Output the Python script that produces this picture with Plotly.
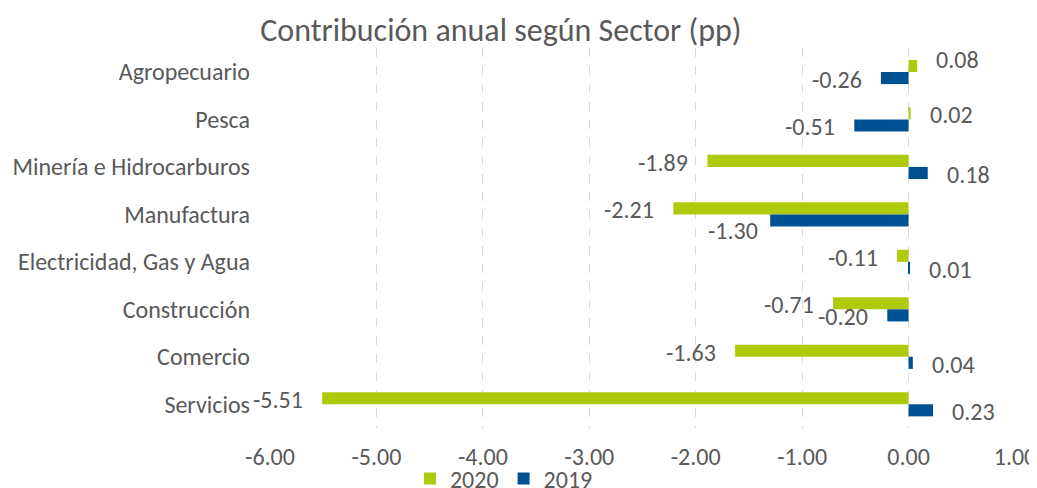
import plotly.graph_objects as go

categories = ["Agropecuario", "Pesca", "Minería e Hidrocarburos", "Manufactura",
              "Electricidad, Gas y Agua", "Construcción", "Comercio", "Servicios"]
values_2020 = [0.08, 0.02, -1.89, -2.21, -0.11, -0.71, -1.63, -5.51]
values_2019 = [-0.26, -0.51, 0.18, -1.30, 0.01, -0.20, 0.04, 0.23]
x_ticks = [-6, -5, -4, -3, -2, -1, 0, 1]
x_tick_labels = ["-6.00", "-5.00", "-4.00", "-3.00", "-2.00", "-1.00", "0.00", "1.00"]

FONT = "Carlito, Lato, sans-serif"
TXT = "#595959"
FS = 24
GREEN = "#AFCA0B"
BLUE = "#005192"
H = 500

fig = go.Figure()
fig.add_trace(go.Bar(y=categories, x=values_2020, orientation="h", name="2020",
                     marker=dict(color=GREEN, line=dict(width=0))))
fig.add_trace(go.Bar(y=categories, x=values_2019, orientation="h", name="2019",
                     marker=dict(color=BLUE, line=dict(width=0))))

# data labels placed next to the bar ends (label layout tweaks like the original)
label_nudge = {("2019", "Manufactura"): (7, -9), ("2020", "Agropecuario"): (0, 8)}
annotations = []
for name, vals, ysh in (("2020", values_2020, 4.5), ("2019", values_2019, -7.5)):
    for cat, v in zip(categories, vals):
        dx, dy = label_nudge.get((name, cat), (0, 0))
        annotations.append(dict(
            x=v, y=cat, xref="x", yref="y", text=f"{v:.2f}", showarrow=False,
            xanchor="left" if v >= 0 else "right", yanchor="middle",
            xshift=(17 if v >= 0 else -17) + dx, yshift=ysh + dy,
            font=dict(size=FS, color=TXT, family=FONT),
        ))

fig.update_layout(
    width=1029, height=H,
    margin=dict(l=262, r=22, t=40, b=H - 420, autoexpand=False),
    paper_bgcolor="white", plot_bgcolor="white",
    font=dict(family=FONT, color=TXT, size=FS),
    barmode="group", bargap=0.49, bargroupgap=0,
    annotations=annotations,
    title=dict(text="Contribución anual según Sector (pp)", x=0.479, xanchor="center",
               xref="container", y=1 - 22 / H, yanchor="middle", yref="container",
               font=dict(size=32, color=TXT, family=FONT)),
    showlegend=True,
    legend=dict(orientation="h", x=0.314, xanchor="center", y=-0.134, yanchor="middle",
                font=dict(size=FS, color=TXT, family=FONT), traceorder="normal",
                itemwidth=30, bgcolor="rgba(0,0,0,0)"),
    xaxis=dict(range=[-6, 1], tickvals=x_ticks, ticktext=x_tick_labels,
               showgrid=True, gridcolor="#D9D9D9", griddash="dash", gridwidth=1,
               zeroline=False, showline=False, ticks="", ticklabelstandoff=12,
               automargin=False, tickfont=dict(size=FS, color=TXT, family=FONT)),
    yaxis=dict(type="category", autorange="reversed", showgrid=False, zeroline=False,
               showline=False, ticks="", ticklabelstandoff=19, automargin=False,
               tickfont=dict(size=FS, color=TXT, family=FONT)),
)

fig.write_html("out.html")
